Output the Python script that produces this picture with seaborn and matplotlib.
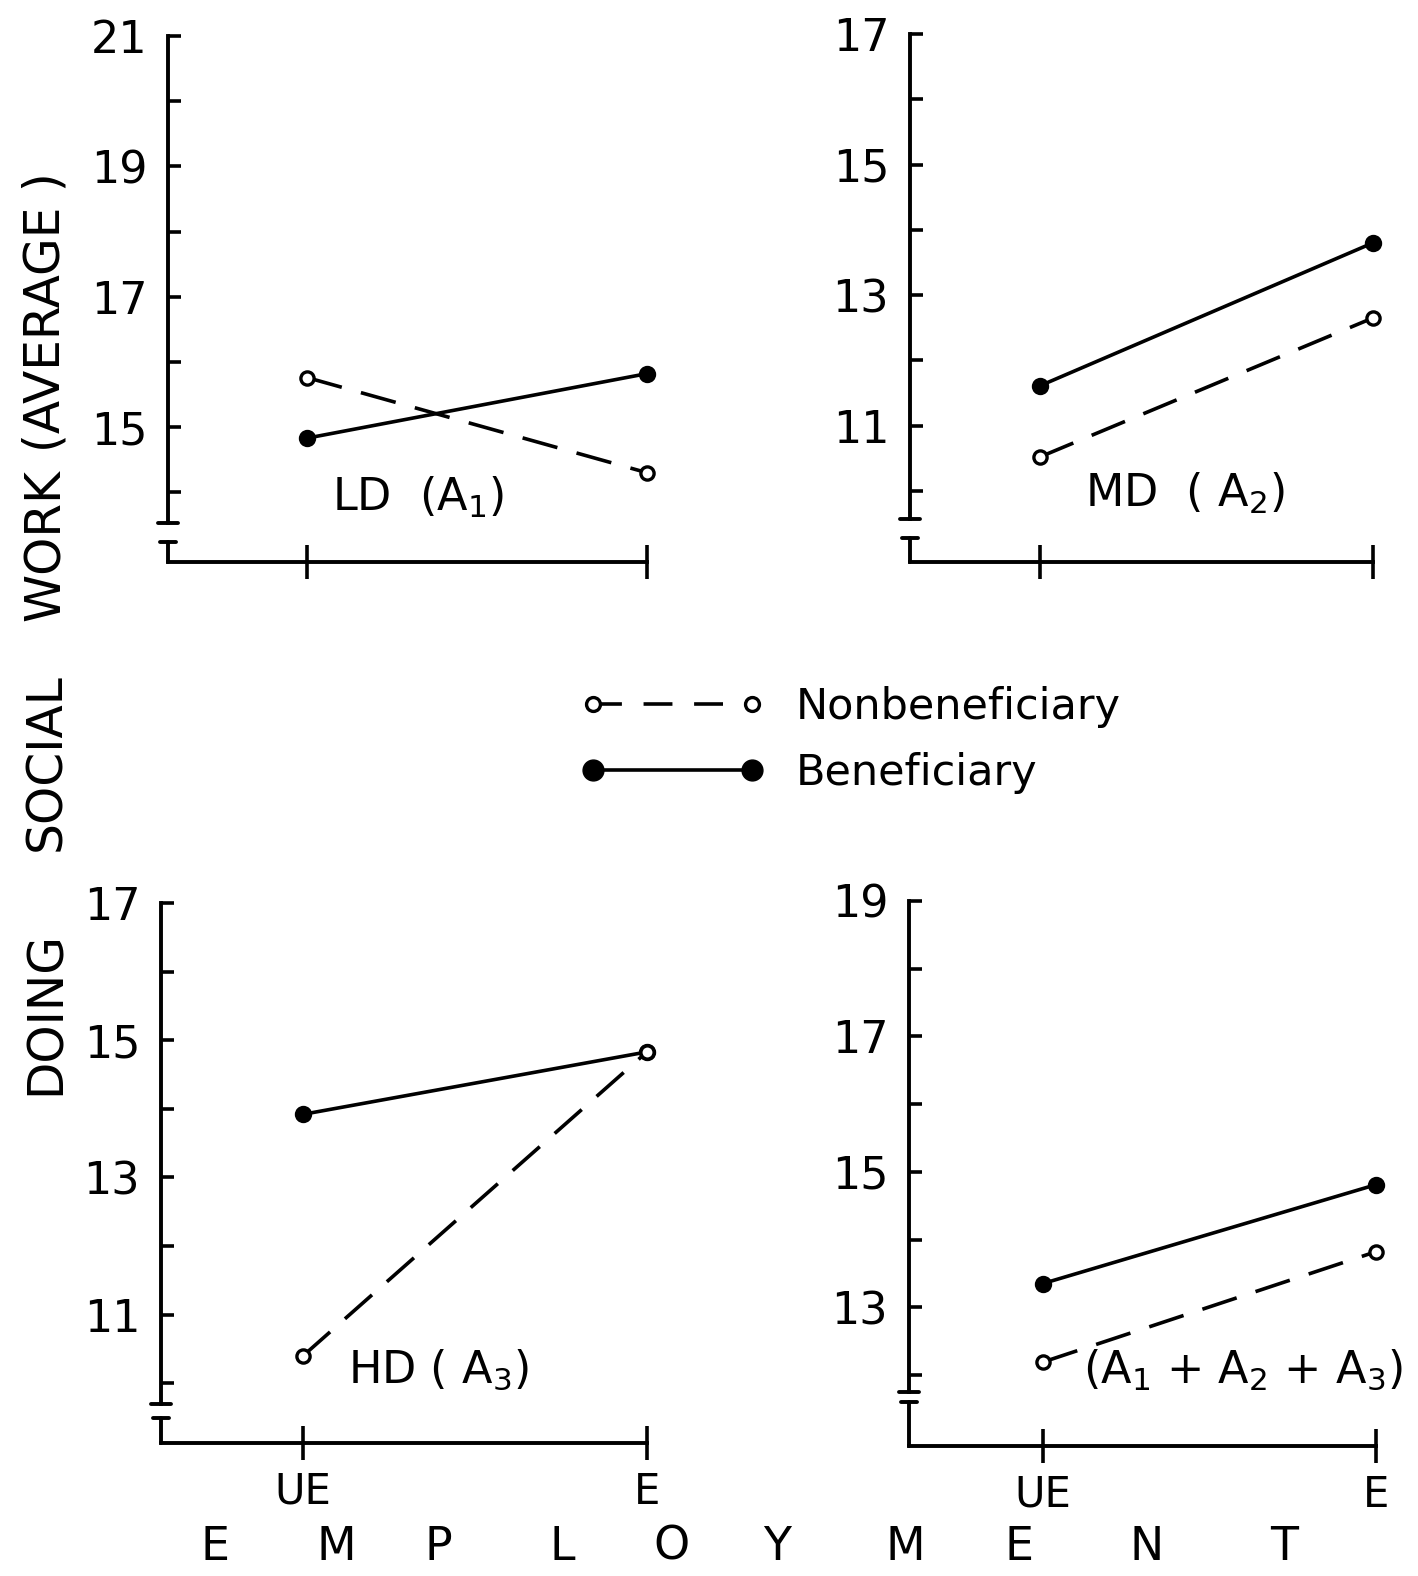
import numpy as np
import matplotlib
matplotlib.use('Agg')
import matplotlib.pyplot as plt
from matplotlib.lines import Line2D
import seaborn as sns

# values
employment = ['UE', 'E']

ld_nonben = [15.76, 14.30]
ld_ben = [14.83, 15.82]
md_nonben = [10.52, 12.65]
md_ben = [11.61, 13.80]
hd_nonben = [10.40, 14.83]
hd_ben = [13.92, 14.83]
all_nonben = [12.19, 13.82]
all_ben = [13.35, 14.81]

ld_ticks = [15, 17, 19, 21]
md_ticks = [11, 13, 15, 17]
hd_ticks = [11, 13, 15, 17]
all_ticks = [13, 15, 17, 19]

panel_titles = ['LD  (A$_1$)', 'MD  ( A$_2$)', 'HD ( A$_3$)', '(A$_1$ + A$_2$ + A$_3$)']
series_names = ['Nonbeneficiary', 'Beneficiary']
ylabel_words = ['DOING', 'SOCIAL', 'WORK', '(AVERAGE )']
xlabel_letters = list('EMPLOYMENT')

W, H, DPI = 1418, 1576, 100

sns.set_theme(style='white')
plt.rcParams['font.family'] = ['DejaVu Sans']
plt.rcParams['mathtext.fontset'] = 'dejavusans'
for key in ['text.color', 'axes.labelcolor', 'xtick.color', 'ytick.color']:
    plt.rcParams[key] = 'black'

LW = 2.6
DASH = (0, (10, 5.5))

# panel layout in pixels (axis x, UE x, E x, baseline y, top tick y) and axis break values
layout = [
    dict(axis_x=168, ue_x=307, e_x=647, base_y=562, top_y=36, base=12.93, end=13.53, cap=13.24,
         title_xy=(418, 497), xlabels=False),
    dict(axis_x=910, ue_x=1040, e_x=1373, base_y=562, top_y=34, base=8.91, end=9.57, cap=9.28,
         title_xy=(1185, 493), xlabels=False),
    dict(axis_x=161, ue_x=303, e_x=647, base_y=1443, top_y=903, base=9.13, end=9.70, cap=9.49,
         title_xy=(438, 1370), xlabels=True),
    dict(axis_x=909, ue_x=1043, e_x=1376, base_y=1446, top_y=901, base=10.95, end=11.75, cap=11.60,
         title_xy=(1243, 1370), xlabels=True),
]
panels = [(ld_nonben, ld_ben, ld_ticks), (md_nonben, md_ben, md_ticks),
          (hd_nonben, hd_ben, hd_ticks), (all_nonben, all_ben, all_ticks)]


def fx(px):
    return px / W


def fy(py):
    return 1 - py / H


def draw_panel(fig, cfg, nonben, ben, ticks, title):
    top_val = ticks[-1]
    unit = (cfg['base_y'] - cfg['top_y']) / (top_val - cfg['base'])
    span = cfg['e_x'] - cfg['ue_x']
    x_left = (cfg['axis_x'] - cfg['ue_x']) / span
    x_right = 1.04
    y_top = top_val + 0.2
    right_px = cfg['ue_x'] + x_right * span
    top_px = cfg['top_y'] - 0.2 * unit
    ax = fig.add_axes([fx(cfg['axis_x']), fy(cfg['base_y']),
                       (right_px - cfg['axis_x']) / W, (cfg['base_y'] - top_px) / H])

    x = np.arange(len(employment))
    # beneficiary first so the open nonbeneficiary circle sits on top where they meet
    sns.lineplot(x=x, y=ben, ax=ax, color='black', lw=LW,
                 marker='o', markersize=11, markerfacecolor='black',
                 markeredgecolor='black', markeredgewidth=1.5, clip_on=False)
    sns.lineplot(x=x, y=nonben, ax=ax, color='black', lw=LW, linestyle=DASH,
                 marker='o', markersize=9.5, markerfacecolor='white',
                 markeredgecolor='black', markeredgewidth=2.4, clip_on=False)

    ax.set_xlim(x_left, x_right)
    ax.set_ylim(cfg['base'], y_top)
    ax.set_xlabel('')
    ax.set_ylabel('')

    ax.set_yticks(ticks)
    ax.set_yticklabels([str(t) for t in ticks])
    minor = [v for v in range(int(np.ceil(cfg['end'])), top_val) if v not in ticks]
    ax.set_yticks(minor, minor=True)
    ax.tick_params(axis='y', which='both', direction='in', length=9, width=2.6,
                   pad=15, labelsize=32, left=True, color='black', labelcolor='black')

    ax.set_xticks(x)
    ax.set_xticklabels(employment)
    ax.tick_params(axis='x', direction='inout', length=24, width=2.6, pad=8,
                   labelsize=30, bottom=True, labelbottom=cfg['xlabels'], color='black',
                   labelcolor='black')

    for side in ['top', 'right']:
        ax.spines[side].set_visible(False)
    for side in ['left', 'bottom']:
        ax.spines[side].set_color('black')
        ax.spines[side].set_linewidth(2.8)
    ax.spines['left'].set_bounds(cfg['end'], top_val)
    ax.spines['bottom'].set_bounds(x_left, 1.0)

    # broken axis mark between the y-axis and the baseline
    tr = ax.get_yaxis_transform()
    half = 10 / (right_px - cfg['axis_x'])
    ax.plot([-half, half], [cfg['end'], cfg['end']], transform=tr, color='black', lw=2.8, clip_on=False)
    ax.plot([-half * 0.8, half * 0.8], [cfg['cap'], cfg['cap']], transform=tr, color='black', lw=2.8,
            clip_on=False)
    ax.plot([0, 0], [cfg['base'], cfg['cap']], transform=tr, color='black', lw=2.8, clip_on=False)

    fig.text(fx(cfg['title_xy'][0]), fy(cfg['title_xy'][1]), title, ha='center', va='center',
             fontsize=32, color='black')
    return ax


fig = plt.figure(figsize=(W / DPI, H / DPI), dpi=DPI)
fig.patch.set_facecolor('white')

for cfg, (nonben, ben, ticks), title in zip(layout, panels, panel_titles):
    draw_panel(fig, cfg, nonben, ben, ticks, title)

# shared y label, one word at a time
for word, yc in zip(ylabel_words, [1013, 762, 545, 312]):
    fig.text(fx(46), fy(yc), word, rotation=90, ha='center', va='center', fontsize=35, color='black')

# spaced-out x label
for letter, xc in zip(xlabel_letters, [215, 336, 438, 562, 671, 777, 905, 1019, 1147, 1284]):
    fig.text(fx(xc), fy(1547), letter, ha='center', va='center', fontsize=33, color='black')

handles = [
    Line2D([], [], color='black', lw=LW, linestyle=(0, (8, 6)), marker='o', markersize=10,
           markerfacecolor='white', markeredgecolor='black', markeredgewidth=2.4),
    Line2D([], [], color='black', lw=LW, marker='o', markersize=15,
           markerfacecolor='black', markeredgecolor='black'),
]
fig.legend(handles, series_names, loc='center left', bbox_to_anchor=(fx(580), fy(740)),
           frameon=False, fontsize=31, numpoints=2, handlelength=4.3, handletextpad=0.7,
           labelspacing=0.55, borderpad=0, borderaxespad=0, labelcolor='black')

fig.savefig('out.png', dpi=DPI, facecolor='white')
